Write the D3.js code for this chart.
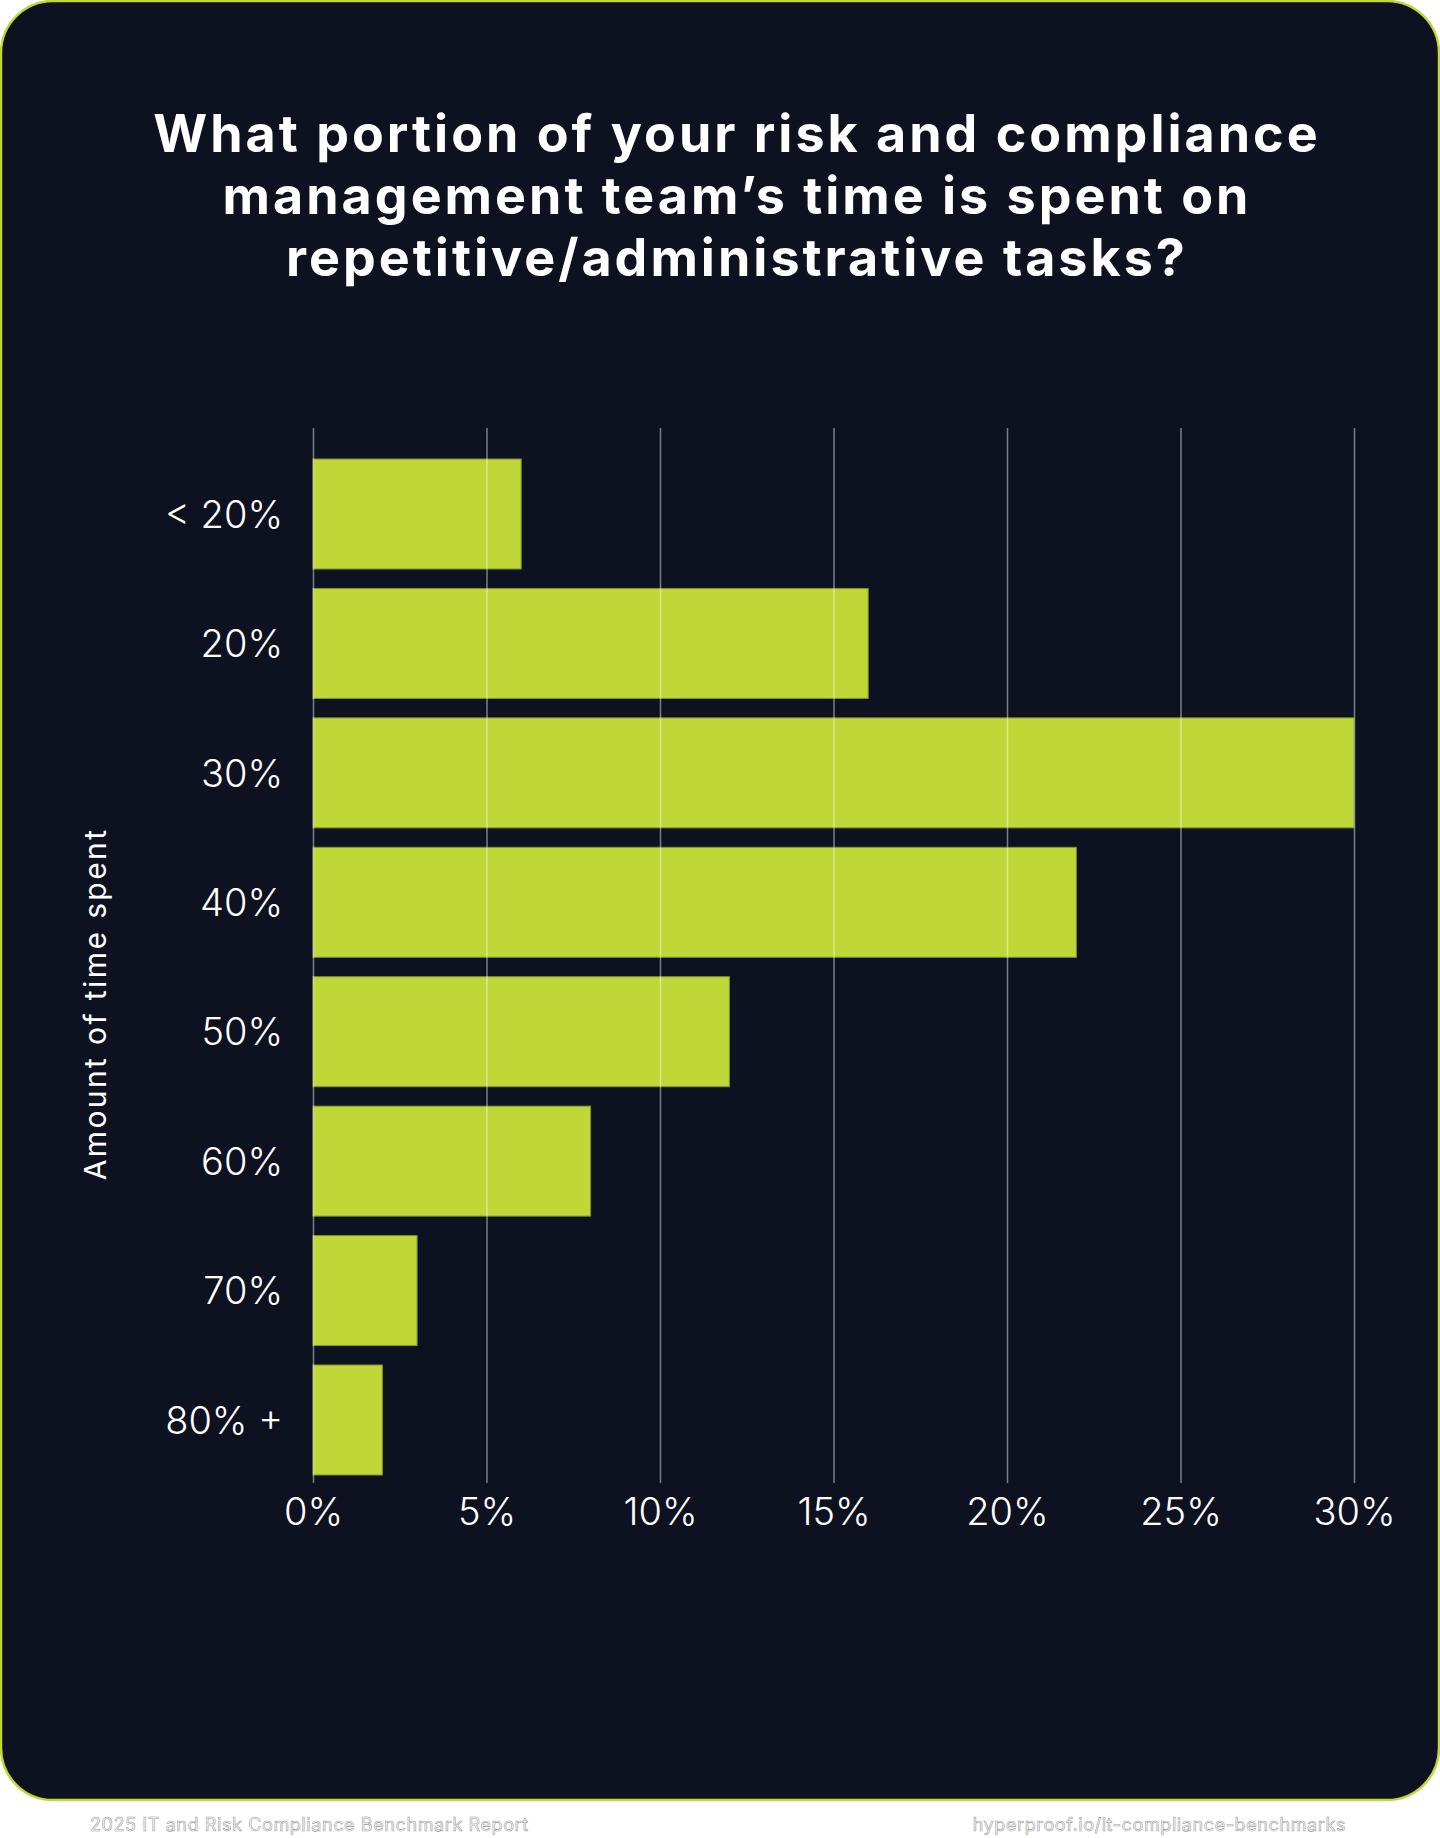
<!DOCTYPE html>
<html>
<head>
<meta charset="utf-8">
<script src="https://cdn.jsdelivr.net/npm/d3@7"></script>
<style>
  html, body { margin: 0; padding: 0; background: #ffffff; }
  svg { display: block; }
</style>
</head>
<body>
<div id="root"></div>
<script>
const categories = ['< 20%', '20%', '30%', '40%', '50%', '60%', '70%', '80% +'];
const shares = [6, 16, 30, 22, 12, 8, 3, 2];
const xTicks = [0, 5, 10, 15, 20, 25, 30];
const titleLines = [
  'What portion of your risk and compliance',
  'management team\u2019s time is spent on',
  'repetitive/administrative tasks?'
];

const W = 1440, H = 1838;
const plot = { left: 313, right: 1354, top: 428, bottom: 1483 };

const svg = d3.select('#root')
  .append('svg')
    .attr('width', W)
    .attr('height', H);

// card
svg.append('rect')
  .attr('x', 1).attr('y', 1)
  .attr('width', W - 2).attr('height', 1799)
  .attr('rx', 52).attr('ry', 52)
  .attr('fill', '#0e1120')
  .attr('stroke', '#bfd737')
  .attr('stroke-width', 2.5);

svg.append('text')
  .attr('text-anchor', 'middle')
  .attr('font-family', 'Inter, sans-serif')
  .attr('font-weight', 700)
  .attr('font-size', 52)
  .attr('letter-spacing', 3)
  .attr('fill', '#ffffff')
  .selectAll('tspan')
  .data(titleLines)
  .enter().append('tspan')
    .attr('x', 737)
    .attr('y', (d, i) => 152 + i * 62)
    .text(d => d);

const x = d3.scaleLinear()
  .domain([0, 30])
  .range([plot.left, plot.right]);

const y = d3.scaleBand()
  .domain(categories)
  .range([459, 1475])
  .paddingInner(0.15)
  .paddingOuter(0);

svg.selectAll('rect.bar')
  .data(shares)
  .enter().append('rect')
    .attr('class', 'bar')
    .attr('x', x(0))
    .attr('y', (d, i) => y(categories[i]))
    .attr('width', d => x(d) - x(0))
    .attr('height', y.bandwidth())
    .attr('fill', '#bfd737')
    .attr('stroke', '#7f8f35')
    .attr('stroke-width', 1);

// gridlines drawn over bars, like the original
const xAxis = d3.axisBottom(x)
  .tickValues(xTicks)
  .tickSize(-(plot.bottom - plot.top))
  .tickFormat(d => d + '%');

const gx = svg.append('g')
  .attr('transform', `translate(0, ${plot.bottom})`)
  .call(xAxis);

gx.select('.domain').remove();
gx.selectAll('line')
  .attr('stroke', '#ffffff')
  .attr('stroke-opacity', 0.45)
  .attr('stroke-width', 1.5);
gx.selectAll('text')
  .attr('fill', '#ffffff')
  .attr('font-family', 'Inter, sans-serif')
  .attr('font-weight', 300)
  .attr('font-size', 38)
  .attr('dy', 0)
  .attr('y', 42);

const yAxis = d3.axisLeft(y).tickSize(0).tickPadding(30);

const gy = svg.append('g')
  .attr('transform', `translate(${plot.left}, 0)`)
  .call(yAxis);

gy.select('.domain').remove();
gy.selectAll('text')
  .attr('fill', '#ffffff')
  .attr('font-family', 'Inter, sans-serif')
  .attr('font-weight', 300)
  .attr('font-size', 38)
  .attr('dy', '0.36em');

svg.append('text')
  .attr('transform', 'translate(106, 1004) rotate(-90)')
  .attr('text-anchor', 'middle')
  .attr('font-family', 'Inter, sans-serif')
  .attr('font-weight', 400)
  .attr('font-size', 30)
  .attr('letter-spacing', 2.4)
  .attr('fill', '#ffffff')
  .text('Amount of time spent');

// footer
const footer = svg.append('g')
  .attr('font-family', 'Inter, sans-serif')
  .attr('font-size', 18)
  .attr('letter-spacing', 0.6)
  .attr('fill', '#ffffff')
  .attr('stroke', '#9a9a9a')
  .attr('stroke-width', 0.6);

footer.append('text')
  .attr('x', 90).attr('y', 1831)
  .text('2025 IT and Risk Compliance Benchmark Report');

footer.append('text')
  .attr('x', 1346).attr('y', 1831)
  .attr('text-anchor', 'end')
  .text('hyperproof.io/it-compliance-benchmarks');
</script>
</body>
</html>
